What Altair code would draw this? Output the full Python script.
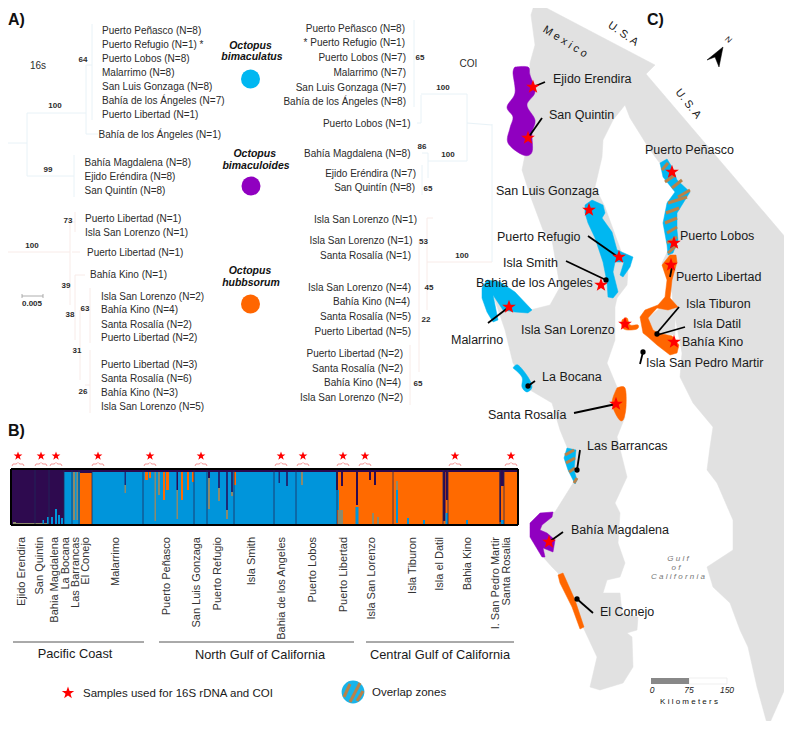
import altair as alt

STAR = "M0,-1L0.24,-0.31L0.95,-0.31L0.38,0.12L0.59,0.81L0,0.4L-0.59,0.81L-0.38,0.12L-0.95,-0.31L-0.24,-0.31Z"
FONT = "Liberation Sans"
BLUE = "#00b7f1"; PURPLE = "#9000c0"; ORANGE = "#ff6600"; BROWN = "#b8824a"; LAND = "#e1e1e1"
ST_BLUE = "#0095db"; ST_DARK = "#2e0a4f"; ST_ORANGE = "#ff6a00"; ST_GRAY = "#8c8a6c"; ST_NAVY = "#1c2c78"
TXT = "#2b2b2b"

# ---- map outlines ----
land = [(535,2),(655,65),(646,74),(792,245),(792,673),(768,727),(757,687),(748,647),(740,630),(730,603),(713,587),(707,567),
        (733,550),(733,520),(717,483),(707,470),(710,447),(713,427),(693,403),(680,377),(682,353),(673,307),(672,293),(662,263),
        (673,240),(665,228),(690,192),(680,190),(665,170),(650,150),(630,118),(625,105),(613,120),(603,140),(602,157),(595,187),
        (605,207),(617,240),(628,270),(627,285),(617,298),(615,307),(615,340),(607,363),(617,387),(625,417),(617,437),(627,477),(615,503),
        (620,513),(618,543),(625,563),(620,577),(607,580),(603,593),(620,593),(622,613),(638,617),(637,630),(627,633),(632,637),
        (633,667),(623,683),(600,690),(590,687),(597,657),(583,627),(558,573),(552,567),(543,557),(530,527),(550,513),(555,512),
        (575,480),(567,447),(560,430),(552,403),(530,390),(513,363),(505,330),(493,295),(530,310),(550,305),(560,287),(552,240),
        (543,230),(530,195),(522,170),(525,155),(530,63),(535,45),(531,15)]
purple_north = [(515,67),(528,67),(530,75),(535,92),(527,105),(535,120),(532,133),(532,152),(523,155),(508,143),(510,128),(513,117),(507,107),(515,93),(513,73)]
purple_south = [(553,512),(540,513),(530,523),(530,537),(542,557),(545,557),(543,548),(553,552),(555,540),(547,533),(540,530),(542,525),(552,517)]
blue_gulf = [(585,205),(592,200),(603,205),(605,213),(602,218),(612,232),(617,250),(633,257),(630,267),(623,277),(620,275),(624,262),(615,262),
             (613,272),(618,292),(613,298),(608,297),(607,282),(603,262),(595,238),(588,223),(585,213)]
blue_malarrino = [(482,288),(487,280),(500,282),(515,292),(532,310),(528,313),(515,312),(503,310),(493,295),(498,320),(493,322),(487,312),(482,298)]
blue_bocana = [(513,368),(518,365),(528,377),(532,387),(527,392),(522,387),(522,377)]
orange_rosalia = [(617,388),(625,388),(626,407),(623,420),(618,418),(612,403)]
orange_mid = [(670,255),(662,265),(667,280),(665,297),(658,305),(645,310),(640,317),(643,333),(648,337),(657,345),(670,355),(677,353),(679,345),
              (672,336),(658,333),(653,330),(648,318),(657,308),(668,310),(678,307),(670,298),(672,280),(677,262),(676,255)]
tiburon = [(648,318),(660,308),(675,308),(675,335),(653,333)]
orange_lorenzo = [(622,320),(627,318),(630,325),(638,325),(637,329),(627,330),(622,327)]
orange_conejo = [(558,575),(563,573),(575,600),(584,627),(580,629),(572,607),(560,583)]
striped_penasco = [(660,163),(667,159),(672,167),(677,180),(690,192),(677,213),(677,230),(678,240),(673,253),(668,255),(667,245),(663,223),(667,203),(675,192),(663,177)]
striped_barrancas = [(567,448),(576,450),(574,470),(577,480),(575,484),(568,470),(564,458)]
stripes_map = [(662,170,668,163),(665,182,675,175),(672,188,682,180),(678,197,690,190),(668,203,687,197),(666,213,679,208),
               (665,223,677,218),(667,233,677,227),(667,243,677,237),(668,253,677,245),
               (565,455,574,450),(566,463,575,458),(569,472,575,468),(574,483,577,478)]
stripes_legend = [(344,697,350,684),(350,702,360,683),(357,701,363,691)]
north_arrow = [(723,47),(707,60),(715,57),(719,67)]

pointers = [(545,82,533,87),(542,118,528,138),(588,236,618,257),(566,261,606,280),(670,277,672,267),(679,307,657,333),
            (685,327,657,335),(640,364,643,352),(535,381,528,386),(574,413,616,404),(580,450,577,470),(488,323,509,307),
            (563,532,549,542),(593,613,577,599)]
dots = [(606,280),(657,334),(643,352),(528,386),(577,470),(577,599)]
map_stars = [(533,87),(528,138),(672,172),(589,210),(619,257),(601,285),(509,307),(674,243),(671,265),(625,324),(674,342),(616,404),(549,542)]

map_labels = [("Ejido Erendira",553,79),("San Quintin",549,115),("Puerto Peñasco",645,150),("San Luis Gonzaga",496,191),
              ("Puerto Refugio",497,237),("Isla Smith",503,263),("Bahia de los Angeles",476,283),("Puerto Lobos",680,236),
              ("Puerto Libertad",676,277),("Isla Tiburon",686,304),("Isla Datil",693,324),("Bahía Kino",682,342),
              ("Isla San Pedro Martir",646,363),("Isla San Lorenzo",521,330),("Malarrino",451,340),("La Bocana",542,377),
              ("Santa Rosalía",488,415),("Las Barrancas",587,446),("Bahía Magdalena",571,530),("El Conejo",600,612)]

# ---- trees ----
tree_blue = [(3,143,3,252),(3,143,27,143),(27,113,27,176),(27,113,86,113),(86,65,86,134),(86,65,92,65),(92,24,92,120),(86,134,98,134),
             (27,176,74,176),(74,155,74,197),(421,95,421,123),(417,123,421,123),(421,94,467,94),(467,94,467,161),(428,161,467,161),
             (428,153,428,178),(422,153,428,153),(422,165,422,195),(467,123,492,125),(492,124,492,262),(414,20,414,107)]
tree_pink = [(3,252,70,252),(70,222,70,305),(70,222,75,222),(75,212,75,232),(72,252,80,252),(75,275,75,340),(75,275,85,275),(80,310,80,380),
             (80,310,85,310),(90,288,90,343),(85,385,90,385),(90,350,90,413),(427,262,492,262),(427,218,427,310),(427,218,433,218),
             (419,240,419,372),(410,345,410,405)]
scale_rule = [(22,296,43,296),(22,294,22,298),(43,294,43,298)]

left_names = [("Puerto Peñasco (N=8)",102,30.5),("Puerto Refugio (N=1) *",102,44.5),("Puerto Lobos (N=8)",102,59),("Malarrimo (N=8)",102,72.5),
              ("San Luis Gonzaga (N=8)",102,87),("Bahía de los Ángeles (N=7)",102,100.5),("Puerto Libertad (N=1)",102,115),
              ("Bahía de los Ángeles (N=1)",98.5,135),("Bahía Magdalena (N=8)",84.5,163),("Ejido Eréndira (N=8)",84.5,177),("San Quintín (N=8)",84.5,191),
              ("Puerto Libertad (N=1)",85,219),("Isla San Lorenzo (N=1)",85,233),("Puerto Libertad (N=1)",87,253),("Bahía Kino (N=1)",90,275),
              ("Isla San Lorenzo (N=2)",101,296.5),("Bahía Kino (N=4)",101,310),("Santa Rosalía (N=2)",101,324.5),("Puerto Libertad (N=2)",101,338),
              ("Puerto Libertad (N=3)",101,365),("Santa Rosalía (N=6)",101,379),("Bahía Kino (N=3)",101,393),("Isla San Lorenzo (N=5)",101,407)]
right_names = [("Puerto Peñasco (N=8)",405,28.5),("* Puerto Refugio (N=1)",405,43),("Puerto Lobos (N=7)",406,58),("Malarrimo (N=7)",406,72.5),
               ("San Luis Gonzaga (N=7)",406,87.5),("Bahía de los Ángeles (N=8)",406,102),("Puerto Lobos (N=1)",410.5,124),
               ("Bahía Magdalena (N=8)",410.5,153.5),("Ejido Eréndira (N=7)",416,174),("San Quintín (N=8)",415,188),
               ("Isla San Lorenzo (N=1)",417,220),("Isla San Lorenzo (N=1)",412.5,241),("Santa Rosalía (N=1)",411,256),
               ("Isla San Lorenzo (N=4)",411,288),("Bahía Kino (N=4)",410,302),("Santa Rosalía (N=5)",411,317),("Puerto Libertad (N=5)",411,332),
               ("Puerto Libertad (N=2)",403,354),("Santa Rosalía (N=2)",403,368.5),("Bahía Kino (N=4)",401,383),("Isla San Lorenzo (N=2)",403,398)]
supports = [("64",83,60),("100",55,106),("99",48,169.5),("73",68,220.5),("100",32,246),("39",66,286),("38",70,315),("63",85,309),("31",77,351),("26",83,392),
            ("65",420,58),("100",443,88),("86",422,147),("100",448,155),("65",428,189),("53",423.5,242),("100",462,256),("45",429,288),("22",426,320),("65",418,384),
            ("0.005",32,304)]
species = [("Octopus",250.5,46),("bimaculatus",252,57),("Octopus",254.7,154),("bimaculoides",256,166),("Octopus",250,271),("hubbsorum",251,283)]
species_dots = [(250.5,79,BLUE),(251,186,PURPLE),(250.5,304,ORANGE)]

# ---- structure plot ----
st_blocks = [(12,64,ST_DARK),(64,80,ST_BLUE),(80,92,ST_ORANGE),(92,337,ST_BLUE),(337,518,ST_ORANGE)]
st_cap = [(64,518,469,472,ST_DARK)]
st_seps = [35,49,64,72,79,92,143,194,207,234,274,296,337,393,443,448,500,504]
st_spikes = [(13,16,522,524,ST_GRAY),(16,48,523,524,ST_GRAY),(42.5,44,520,524,ST_BLUE),(47,49,517,524,ST_BLUE),(51,53,517,524,ST_BLUE),(55,57,509,524,ST_BLUE),(58,60,515,524,ST_BLUE),(61,63,518,524,ST_BLUE),
             (73,75,472,520,ST_GRAY),(76.5,78,472,520,ST_GRAY),(80,92,472,473,ST_DARK),(124.5,126,472,485,ST_NAVY),(124.5,126,485,493,ST_GRAY),
             (145,148,472,480,ST_ORANGE),(149,151,472,478,ST_ORANGE),(154.5,156,472,521,ST_GRAY),(158,160,472,495,ST_GRAY),(163,165,472,500,ST_ORANGE),(166,169,472,490,ST_ORANGE),
             (176.5,178,490,519,ST_GRAY),(176.5,178,472,490,ST_DARK),(181,183,472,500,ST_ORANGE),(187,189,472,490,ST_ORANGE),(192,194,472,482,ST_ORANGE),
             (208,210,472,478,ST_DARK),(208,210,478,509,ST_GRAY),(218,220,472,488,ST_NAVY),(218,220,488,501,ST_GRAY),(226,228,472,510,ST_NAVY),(226,228,510,519,ST_GRAY),
             (231,233,472,492,ST_NAVY),(231,233,492,496,ST_GRAY),(234,236,472,485,ST_ORANGE),(278.5,280,472,483,ST_NAVY),(286,288,472,486,ST_NAVY),(301,303,472,485,ST_GRAY),
             (336,338,472,490,ST_DARK),(337,339,490,510,ST_BLUE),(338,343,510,525,ST_GRAY),(341,343,472,486,ST_DARK),(356,358,472,505,ST_DARK),(355.5,358.5,507,524,ST_BLUE),
             (372,374,513,524,ST_GRAY),(377,379,517,524,ST_GRAY),(374,376,472,485,ST_DARK),(369,371,472,480,ST_DARK),(396,398,481,500,ST_GRAY),(396,398,490,523,ST_BLUE),
             (407,409,518,524,ST_BLUE),(423,425,520,524,ST_BLUE),(443,445.5,470,521,ST_DARK),(446,448,472,500,ST_DARK),(445.5,448,513,524,ST_BLUE),(466,468,520,524,ST_BLUE),
             (499.5,504,470,486,ST_DARK),(499.5,501,486,522,ST_DARK),(501,504,520,524,ST_BLUE)]
st_frame = [(11,469,518,469),(11,525,518,525),(11,469,11,525),(518,469,518,525)]
st_stars = [18,41,56,98,150,201,281,303,343,365,455,511]
brace_dx = [-6,-5,-2,-1,0,1,2,5,6]
brace_y = [466,464,464,463.5,462.5,463.5,464,464,466]

b_labels = [("Ejido Erendira",22),("San Quintin",40),("Bahia Magdalena",55),("La Bocana",65.5),("Las Barrancas",75.5),("El Conejo",85.5),("Malarrimo",116),
            ("Puerto Peñasco",167),("San Luis Gonzaga",197),("Puerto Refugio",218),("Isla Smith",252),("Bahia de los Angeles",282),("Puerto Lobos",313),("Puerto Libertad",344),
            ("Isla San Lorenzo",372),("Isla Tiburon",413),("Isla el Datil",440),("Bahia Kino",468),("I. San Pedro Martir",496),("Santa Rosalia",507)]
group_rules = [(13,642,144,642),(159,642,354,642),(366,642,514,642)]
group_labels = [("Pacific Coast",75,654),("North Gulf of California",260,655),("Central Gulf of California",440,655)]

# ---- helpers ----
W, H = 776, 713
X = alt.X("x:Q", scale=alt.Scale(domain=[8,8+W], nice=False, zero=False), axis=None, title=None)
Y = alt.Y("y:Q", scale=alt.Scale(domain=[8+H,8], nice=False, zero=False), axis=None, title=None)

def poly(pts, color, interp="linear", sw=0.5):
    rows = [{"x":p[0],"y":p[1],"i":i} for i,p in enumerate(list(pts)+[pts[0]])]
    return alt.Chart(alt.Data(values=rows)).mark_line(fill=color, stroke=color, strokeWidth=sw, interpolate=interp).encode(x=X, y=Y, order=alt.Order("i:Q"))

def segs(items, color, width, cap="butt"):
    rows = [{"x":a,"y":b,"x2":c,"y2":d} for a,b,c,d in items]
    return alt.Chart(alt.Data(values=rows)).mark_rule(color=color, strokeWidth=width, strokeCap=cap).encode(x=X, y=Y, x2="x2:Q", y2="y2:Q")

def rects(items, **mk):
    rows = [{"x":a,"x2":b,"y":c,"y2":d,"c":e} for a,b,c,d,e in items]
    return alt.Chart(alt.Data(values=rows)).mark_rect(**mk).encode(x=X, y=Y, x2="x2:Q", y2="y2:Q", fill=alt.Fill("c:N", scale=None))

def points(items, shape, size, color):
    rows = [{"x":p[0],"y":p[1]} for p in items]
    return alt.Chart(alt.Data(values=rows)).mark_point(shape=shape, size=size, filled=True, color=color, opacity=1).encode(x=X, y=Y)

def text(items, size, align="left", weight="normal", style="normal", color=TXT, angle=0, font=FONT):
    rows = [{"t":a,"x":b,"y":c} for a,b,c in items]
    return alt.Chart(alt.Data(values=rows)).mark_text(fontSize=size, align=align, baseline="middle", fontWeight=weight, fontStyle=style,
                                                      color=color, angle=angle, font=font).encode(x=X, y=Y, text="t:N")

C = "cardinal"
layers = [
    poly(land, LAND),
    poly(tiburon, LAND),
    poly(purple_north, PURPLE, C), poly(purple_south, PURPLE),
    poly(blue_gulf, BLUE), poly(blue_malarrino, BLUE), poly(blue_bocana, BLUE, C),
    poly(orange_rosalia, ORANGE, C), poly(orange_mid, ORANGE), poly(orange_lorenzo, ORANGE, C), poly(orange_conejo, ORANGE),
    poly(striped_penasco, BLUE), poly(striped_barrancas, BLUE),
    segs(stripes_map, BROWN, 3),
    segs(pointers, "#000000", 1.8),
    points(dots, "circle", 28, "#000000"),
    points(map_stars, STAR, 210, "#ff0000"),
    poly(north_arrow, "#000000"),
    # trees
    segs(tree_blue, "#e8f2f7", 1),
    segs(tree_pink, "#f8ebe8", 1),
    segs(scale_rule, "#9a9a9a", 0.8),
    # structure plot
    rects([(a,b,469,525,c) for a,b,c in st_blocks]),
    rects(st_cap),
    rects(st_spikes),
    segs([(x,470,x,524) for x in st_seps], "#1e2a5a", 0.8),
    segs(st_frame, "#000000", 2),
    points([(x,456) for x in st_stars], STAR, 85, "#ff0000"),
    alt.Chart(alt.Data(values=[{"x":s+dx,"y":by,"b":s,"i":i} for s in st_stars for i,(dx,by) in enumerate(zip(brace_dx,brace_y))])).mark_line(color="#ef8080", strokeWidth=0.8).encode(x=X, y=Y, detail="b:N", order=alt.Order("i:Q")),
    # group rules
    segs(group_rules, "#555555", 1),
    # legend glyphs
    points([(68,693)], STAR, 170, "#ff0000"),
    points([(353,692)], "circle", 520, "#18b4ea"),
    segs(stripes_legend, BROWN, 3),
    # scale bar of the map
    rects([(689,727,678,684,"#ffffff")], stroke="#e8e8e8", strokeWidth=0.7),
    rects([(651,689,678,684,"#888888")]),
    # species
    points([d[:2] for d in species_dots if d[2]==BLUE], "circle", 361, BLUE),
    points([d[:2] for d in species_dots if d[2]==PURPLE], "circle", 361, PURPLE),
    points([d[:2] for d in species_dots if d[2]==ORANGE], "circle", 361, ORANGE),
    # text
    text(left_names, 10),
    text(right_names, 10, align="right"),
    text(supports, 8, align="center", weight="bold"),
    text(species, 10.5, align="center", weight="bold", style="italic", color="#111111"),
    text([("16s",38,66),("COI",468.5,64)], 10, align="center"),
    text([("A)",8,20),("B)",8,431),("C)",647,20)], 16, weight="bold", color="#111111"),
    text(map_labels, 12.5, color="#1a1a1a"),
    text([(t,x,537) for t,x in b_labels], 11, align="right", angle=270, color="#333333"),
    text(group_labels, 12.8, align="center", color="#1a1a1a"),
    text([("Samples used for 16S rDNA and COI",83,694),("Overlap zones",372,693)], 11.5, color="#1a1a1a"),
    text([("M e x i c o",565,42)], 11, align="center", angle=32, color="#1a1a1a"),
    text([("U. S. A",623,34)], 11, align="center", angle=35, color="#1a1a1a"),
    text([("U. S. A",688,104)], 11, align="center", angle=52, color="#1a1a1a"),
    text([("N",728,40)], 8, align="center", angle=35, style="italic", color="#111111"),
    text([("G u l f",678,559),("o f",676,568),("C a l i f o r n i a",678,577)], 8, align="center", style="italic", color="#777777"),
    text([("0",652,690),("75",689,690),("150",727,690)], 8.5, align="center", style="italic", color="#222222"),
    text([("K i l o m e t e r s",689,702)], 8, align="center", color="#111111"),
]

chart = alt.layer(*layers).properties(width=W, height=H, padding=0, autosize=alt.AutoSizeParams(type="none")).configure_view(stroke=None)
chart.save("out.html", embed_options={"renderer": "svg", "actions": False})
